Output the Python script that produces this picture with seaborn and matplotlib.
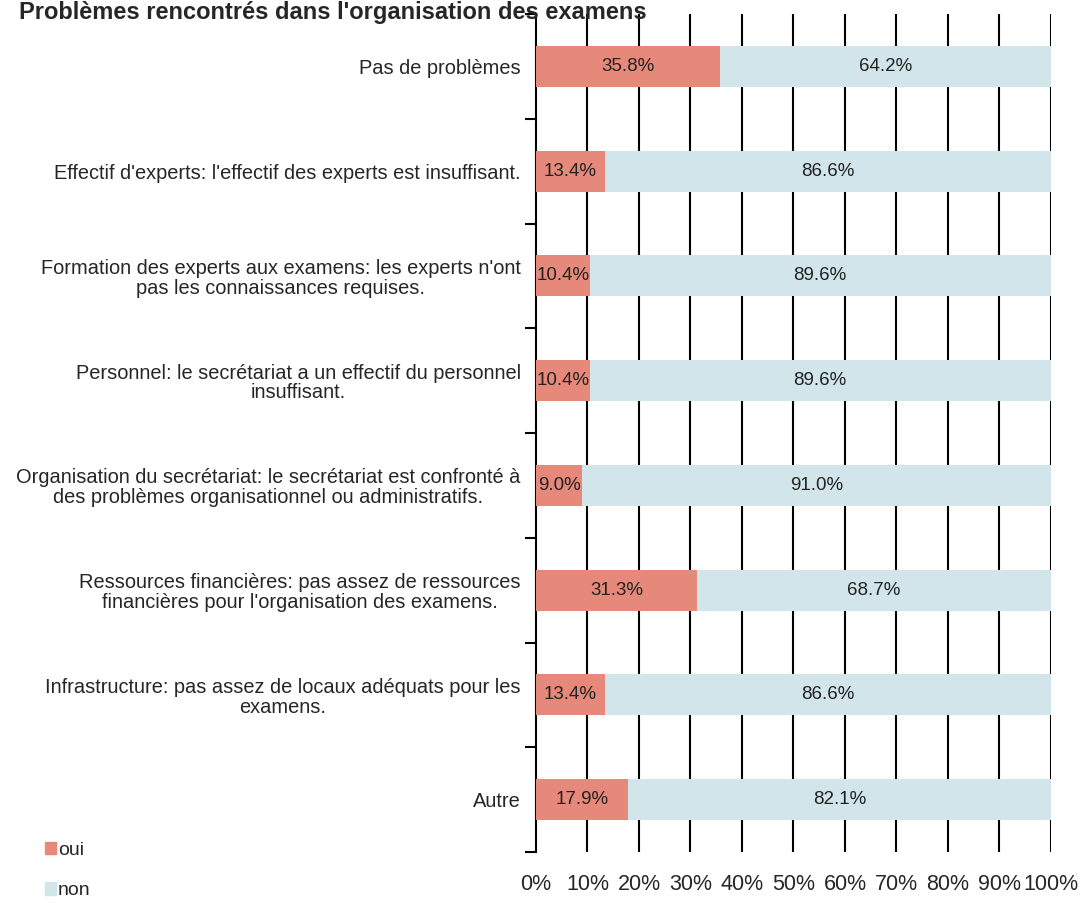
import pandas as pd
import numpy as np
import matplotlib
matplotlib.use('Agg')
import matplotlib.pyplot as plt
import seaborn as sns
from matplotlib.patches import Patch

categories = ["Pas de problèmes",
              "Effectif d'experts: l'effectif des experts est insuffisant.",
              "Formation des experts aux examens: les experts n'ont\npas les connaissances requises.",
              "Personnel: le secrétariat a un effectif du personnel\ninsuffisant.",
              "Organisation du secrétariat: le secrétariat est confronté à\ndes problèmes organisationnel ou administratifs.",
              "Ressources financières: pas assez de ressources\nfinancières pour l'organisation des examens.",
              "Infrastructure: pas assez de locaux adéquats pour les\nexamens.",
              "Autre"]
oui = [35.8, 13.4, 10.4, 10.4, 9.0, 31.3, 13.4, 17.9]
non = [64.2, 86.6, 89.6, 89.6, 91.0, 68.7, 86.6, 82.1]
xticks = [0, 10, 20, 30, 40, 50, 60, 70, 80, 90, 100]

c_oui = '#E6897A'
c_non = '#D1E5EA'

df = pd.DataFrame({'cat': categories, 'oui': oui, 'non': non})
df['total'] = df['oui'] + df['non']

sns.set_style('white')
plt.rcParams['font.family'] = ['Liberation Sans', 'DejaVu Sans']

fig = plt.figure(figsize=(10.81, 9.06), dpi=100)
ax = fig.add_axes([0.4958, 0.0596, 0.4764, 0.9249])

sns.barplot(data=df, y='cat', x='total', color=c_non, width=0.39, ax=ax,
            saturation=1, zorder=3, linewidth=0)
sns.barplot(data=df, y='cat', x='oui', color=c_oui, width=0.39, ax=ax,
            saturation=1, zorder=3, linewidth=0)

for i, (o, n) in enumerate(zip(oui, non)):
    ax.text(o / 2, i, f'{o:.1f}%', ha='center', va='center', fontsize=13.5,
            color='#222222', zorder=4)
    ax.text(o + n / 2, i, f'{n:.1f}%', ha='center', va='center', fontsize=13.5,
            color='#222222', zorder=4)

ax.set_xlim(0, 100)
ax.set_ylim(7.5, -0.5)
ax.set_xticks(xticks)
ax.set_xticklabels([f'{t}%' for t in xticks], fontsize=15.5)
for t in xticks[1:]:
    ax.axvline(t, color='black', lw=1.5, zorder=1)
ax.set_xlabel('')
ax.set_ylabel('')
ax.tick_params(axis='x', length=0, pad=16)
ax.tick_params(axis='y', which='major', length=0, pad=11, labelsize=14.4)
ax.set_yticks(np.arange(-0.5, 8, 1), minor=True)
ax.tick_params(axis='y', which='minor', length=8, width=1.5, color='black', left=True)
for lab in ax.get_yticklabels():
    lab.set_horizontalalignment('right')
    lab.set_multialignment('center')
    lab.set_linespacing(1.05)

for s in ['top', 'right', 'bottom']:
    ax.spines[s].set_visible(False)
ax.spines['left'].set_color('black')
ax.spines['left'].set_linewidth(1.5)

fig.text(0.018, 0.999, "Problèmes rencontrés dans l'organisation des examens",
         fontsize=17, fontweight='bold', va='top', ha='left')

handles = [Patch(color=c_oui, label='oui'), Patch(color=c_non, label='non')]
fig.legend(handles=handles, loc='lower left', bbox_to_anchor=(0.025, -0.012),
           frameon=False, fontsize=14, handlelength=0.6, handleheight=0.6,
           handletextpad=0.1, labelspacing=1.2)

fig.savefig('out.png', dpi=100)
